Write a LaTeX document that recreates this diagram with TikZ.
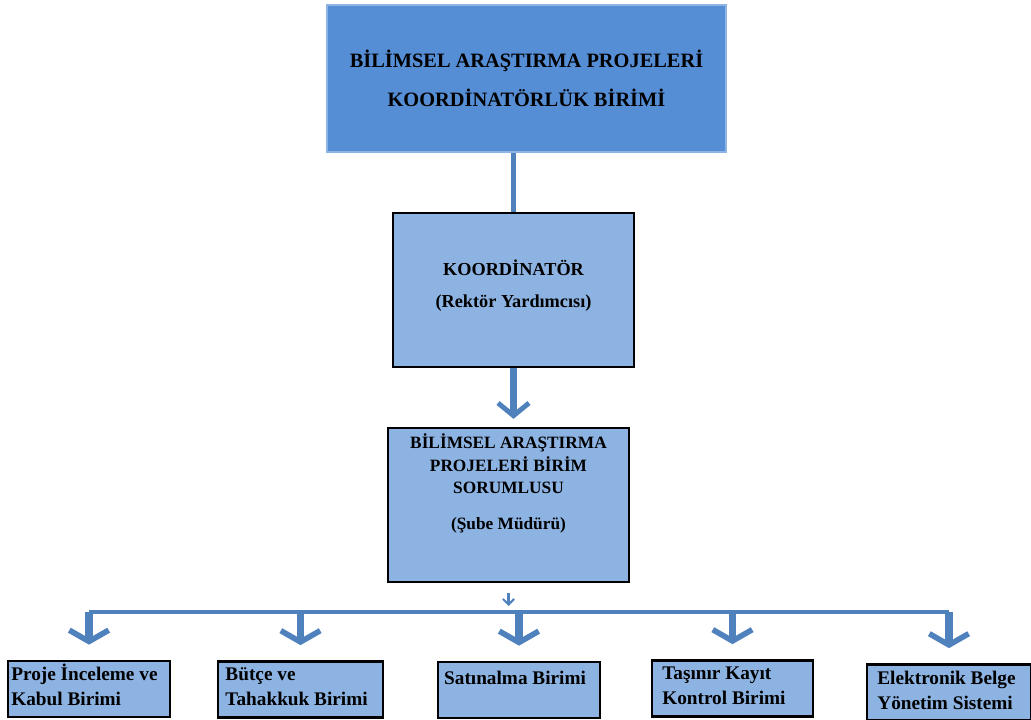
\documentclass[tikz,border=0pt]{standalone}
\usepackage{fontspec}
\setmainfont{Liberation Serif}
\usetikzlibrary{arrows.meta, positioning}
\definecolor{TopFill}{RGB}{85,142,213}
\definecolor{TopLine}{RGB}{141,180,227}
\definecolor{BoxFill}{RGB}{141,179,226}
\definecolor{LinkBlue}{RGB}{79,129,189}
\tikzset{
    top box/.style={
        draw=TopLine, line width=1pt, fill=TopFill,
        minimum width=9.98cm, minimum height=3.68cm,
        align=center, font=\bfseries\fontsize{14.5}{17}\selectfont
    },
    mid box/.style={
        draw=black, line width=1.6pt, fill=BoxFill,
        minimum width=6.03cm, minimum height=3.85cm
    },
    mid text/.style={
        anchor=north, inner sep=0pt, align=center,
        font=\bfseries\fontsize{12.3}{16}\selectfont
    },
    unit box/.style={
        draw=black, line width=1.6pt, fill=BoxFill, minimum height=1.4cm
    },
    unit text/.style={
        anchor=north west, inner sep=0pt, align=left,
        font=\bfseries\fontsize{13.7}{17.8}\selectfont
    },
    link/.style={draw=LinkBlue, line width=3.5pt},
    down arrow/.style={
        draw=LinkBlue, line width=5pt, shorten >=0.2cm,
        -{Straight Barb[length=9pt, width=22pt, line width=3.5pt]}
    },
    drop arrow/.style={
        draw=LinkBlue, line width=5.5pt, shorten >=0.38cm,
        -{Straight Barb[length=8pt, width=28pt, line width=4pt]}
    },
    small arrow/.style={
        draw=LinkBlue, line width=1.5pt, shorten <=0.25cm, shorten >=0.15cm,
        -{Straight Barb[length=4pt, width=8pt]}
    }
}

\begin{document}
\begin{tikzpicture}[x=0.025cm, y=-0.025cm]

    \useasboundingbox (0,0) rectangle (1031,720);

    \node[top box] (bap) at (526.5,78.5)
        {BİLİMSEL ARAŞTIRMA PROJELERİ\\[11pt] KOORDİNATÖRLÜK BİRİMİ};

    \node[mid box] (koord) at (513.5,290) {};
    \node[mid text, font=\bfseries\fontsize{13}{16}\selectfont] (koordT)
        at ([yshift=-34pt]koord.north)
        {KOORDİNATÖR\\[7pt](Rektör Yardımcısı)};

    \node[mid box] (sorumlu) at (508.5,505) {};
    \node[mid text] (sorumluT) at ([yshift=-5pt]sorumlu.north)
        {BİLİMSEL ARAŞTIRMA\\PROJELERİ BİRİM\\SORUMLUSU\\[9pt](Şube Müdürü)};

    % Alt birimler
    \node[unit box, minimum width=4.05cm] (inceleme) at (89,689) {};
    \node[unit box, minimum width=4.13cm] (butce) at (300.5,689.5) {};
    \node[unit box, minimum width=4.05cm] (satinalma) at (519,690) {};
    \node[unit box, minimum width=4.03cm] (tasinir) at (732.5,688.5) {};
    \node[unit box, minimum width=4.1cm] (ebys) at (949,692.5) {};

    \node[unit text] (incelemeT) at ([xshift=3pt, yshift=-3pt]inceleme.north west)
        {Proje İnceleme ve\\Kabul Birimi};
    \node[unit text] (butceT) at ([xshift=6pt, yshift=-5pt]butce.north west)
        {Bütçe ve\\Tahakkuk Birimi};
    \node[unit text] (satinalmaT) at ([xshift=5pt, yshift=-7pt]satinalma.north west)
        {Satınalma Birimi};
    \node[unit text] (tasinirT) at ([xshift=8pt, yshift=-5pt]tasinir.north west)
        {Taşınır Kayıt\\Kontrol Birimi};
    \node[unit text] (ebysT) at ([xshift=8pt, yshift=-5pt]ebys.north west)
        {Elektronik Belge\\Yönetim Sistemi};

    % Baglantilar
    \draw[link] (koord.north |- bap.south) -- (koord.north);
    \draw[down arrow] (koord.south) -- (koord.south |- sorumlu.north);

    \coordinate (bus) at (510,612);
    \draw[small arrow] (sorumlu.south) -- (sorumlu.south |- bus);
    \draw[link] (inceleme.north |- bus) -- (ebys.north |- bus);
    \foreach \b in {inceleme, butce, satinalma, tasinir, ebys}
        \draw[drop arrow] (\b.north |- bus) -- (\b.north);

\end{tikzpicture}
\end{document}
